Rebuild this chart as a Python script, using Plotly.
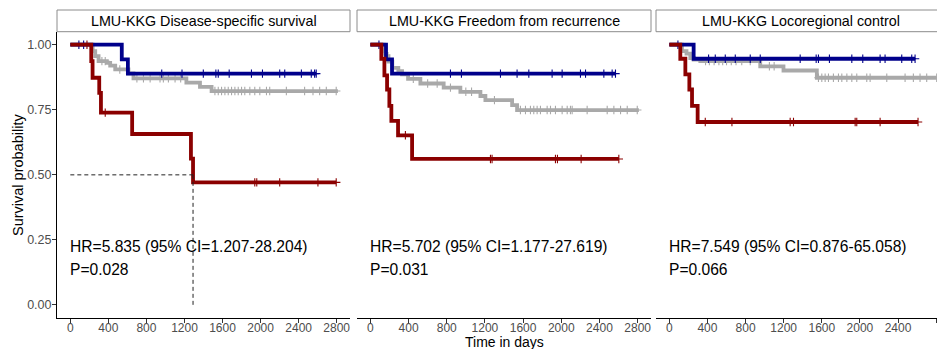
import plotly.graph_objects as go

# ---------------- data ----------------
titles = ["LMU-KKG Disease-specific survival",
          "LMU-KKG Freedom from recurrence",
          "LMU-KKG Locoregional control"]
hr_texts = ["HR=5.835 (95% CI=1.207-28.204)",
            "HR=5.702 (95% CI=1.177-27.619)",
            "HR=7.549 (95% CI=0.876-65.058)"]
p_texts = ["P=0.028", "P=0.031", "P=0.066"]
x_ticks = [0, 400, 800, 1200, 1600, 2000, 2400, 2800]
y_ticks = [0.0, 0.25, 0.5, 0.75, 1.0]
y_tick_labels = ["0.00", "0.25", "0.50", "0.75", "1.00"]
median_dss_red = 1290

# Panel 1: Disease-specific survival
dss_gray_t = [0, 235, 262, 297, 384, 419, 472, 611, 664, 1220, 1363, 1485]
dss_gray_s = [1.0, 0.975, 0.956, 0.937, 0.930, 0.920, 0.905, 0.890, 0.871, 0.854, 0.838, 0.822]
dss_gray_end = 2813
dss_gray_c = [332, 367, 520, 700, 769, 839, 943, 978, 1031, 1101, 1160, 1520, 1555, 1590, 1625,
              1660, 1695, 1730, 1765, 1800, 1834, 1887, 1939, 1992, 2062, 2096, 2271, 2463,
              2551, 2621, 2691, 2795]
dss_blue_t = [0, 541, 605]
dss_blue_s = [1.0, 0.944, 0.889]
dss_blue_end = 2585
dss_blue_c = [90, 140, 961, 1174, 1398, 1530, 1555, 1670, 1904, 2020, 2201, 2254, 2429, 2533, 2568, 2585]
dss_red_t = [0, 220, 234, 304, 322, 650, 1268, 1290]
dss_red_s = [1.0, 0.937, 0.873, 0.815, 0.739, 0.657, 0.562, 0.471]
dss_red_end = 2795
dss_red_c = [175, 367, 1939, 1960, 2201, 2603, 2795]

# Panel 2: Freedom from recurrence
ffr_gray_t = [0, 140, 155, 170, 190, 230, 293, 332, 395, 524, 768, 943, 1153, 1205, 1485, 1537]
ffr_gray_s = [1.0, 0.975, 0.965, 0.956, 0.935, 0.911, 0.898, 0.886, 0.869, 0.851, 0.835, 0.819,
              0.803, 0.787, 0.768, 0.749]
ffr_gray_end = 2813
ffr_gray_c = [450, 600, 700, 839, 1000, 1060, 1300, 1572, 1625, 1677, 1712, 1747, 1782, 1852,
              1887, 1939, 2009, 2062, 2096, 2114, 2271, 2481, 2551, 2621, 2691, 2796]
ffr_blue_t = [0, 164, 227]
ffr_blue_s = [1.0, 0.944, 0.889]
ffr_blue_end = 2568
ffr_blue_c = [90, 839, 954, 1363, 1537, 1660, 1904, 2009, 2201, 2254, 2446, 2533, 2568]
ffr_red_t = [0, 115, 147, 175, 199, 220, 290, 437]
ffr_red_s = [1.0, 0.946, 0.882, 0.828, 0.765, 0.707, 0.652, 0.561]
ffr_red_end = 2603
ffr_red_c = [367, 1258, 1275, 1939, 1960, 2208, 2603]

# Panel 3: Locoregional control
lrc_gray_t = [0, 133, 180, 220, 255, 325, 954, 1198, 1548]
lrc_gray_s = [1.0, 0.975, 0.966, 0.949, 0.943, 0.937, 0.917, 0.901, 0.873]
lrc_gray_end = 2806
lrc_gray_c = [380, 420, 470, 520, 560, 600, 650, 700, 760, 849, 1050, 1100, 1565, 1600, 1635,
              1670, 1722, 1775, 1810, 1863, 1915, 1967, 2072, 2107, 2282, 2474, 2561, 2631,
              2701, 2806]
lrc_blue_t = [0, 255]
lrc_blue_s = [1.0, 0.946]
lrc_blue_end = 2579
lrc_blue_c = [90, 412, 482, 587, 692, 849, 954, 1373, 1541, 1565, 1680, 1915, 2030, 2212, 2264,
              2439, 2544, 2579]
lrc_red_t = [0, 115, 168, 210, 238, 297]
lrc_red_s = [1.0, 0.946, 0.886, 0.828, 0.765, 0.703]
lrc_red_end = 2610
lrc_red_c = [377, 657, 1268, 1303, 1950, 1967, 2212, 2610]

# ---------------- styling ----------------
COL = {"gray": "#A9A9A9", "blue": "#00008B", "red": "#8B0000"}
FONT = "Liberation Sans, Arial, Helvetica, sans-serif"

panels = [
    [("gray", dss_gray_t, dss_gray_s, dss_gray_end, dss_gray_c),
     ("blue", dss_blue_t, dss_blue_s, dss_blue_end, dss_blue_c),
     ("red", dss_red_t, dss_red_s, dss_red_end, dss_red_c)],
    [("gray", ffr_gray_t, ffr_gray_s, ffr_gray_end, ffr_gray_c),
     ("blue", ffr_blue_t, ffr_blue_s, ffr_blue_end, ffr_blue_c),
     ("red", ffr_red_t, ffr_red_s, ffr_red_end, ffr_red_c)],
    [("gray", lrc_gray_t, lrc_gray_s, lrc_gray_end, lrc_gray_c),
     ("blue", lrc_blue_t, lrc_blue_s, lrc_blue_end, lrc_blue_c),
     ("red", lrc_red_t, lrc_red_s, lrc_red_end, lrc_red_c)],
]


def step_value(ts, ss, t):
    v = ss[0]
    for ti, si in zip(ts, ss):
        if ti <= t:
            v = si
    return v


# the page body has an 8px margin: figure occupies page px 8..945 x 8..349
OFF = 8
W, H = 945 - OFF, 349 - OFF
ML, MR, MT, MB = 57 - OFF, 0, 10 - OFF, 349 - 318
PW, PH = W - ML - MR, H - MT - MB


def px_x(px):  # page px -> paper x
    return (px - OFF - ML) / PW


def px_y(py):  # page px -> paper y
    return (H - MB - (py - OFF)) / PH


x_domains = [[px_x(57), px_x(350)], [px_x(357), px_x(651)], [px_x(656), 1.0]]
x_ranges = [[-140, 2940], [-140, 2940], [-140, 2893]]
panel_top = px_y(31.7)
y_domain = [0, panel_top]

fig = go.Figure()
for i, groups in enumerate(panels):
    xa = "x" if i == 0 else f"x{i+1}"
    ya = "y" if i == 0 else f"y{i+1}"
    for name, ts, ss, end, cs in groups:
        xs = list(ts) + [end]
        ys = list(ss) + [ss[-1]]
        fig.add_trace(go.Scatter(x=xs, y=ys, mode="lines", line=dict(color=COL[name], width=3.8, shape="hv"),
                                 xaxis=xa, yaxis=ya, showlegend=False, hoverinfo="skip"))
        fig.add_trace(go.Scatter(x=cs, y=[step_value(ts, ss, c) for c in cs], mode="markers",
                                 marker=dict(symbol="cross-thin", size=6, line=dict(color=COL[name], width=1.1)),
                                 xaxis=xa, yaxis=ya, showlegend=False, hoverinfo="skip"))

layout = dict(width=W, height=H, autosize=False,
              margin=dict(l=ML, r=MR, t=MT, b=MB, pad=0),
              paper_bgcolor="white", plot_bgcolor="white",
              font=dict(family=FONT, color="black"), showlegend=False)

for i in range(3):
    xk = "xaxis" if i == 0 else f"xaxis{i+1}"
    yk = "yaxis" if i == 0 else f"yaxis{i+1}"
    layout[xk] = dict(domain=x_domains[i], range=x_ranges[i], anchor="y" if i == 0 else f"y{i+1}",
                      tickvals=x_ticks, ticktext=[str(v) for v in x_ticks],
                      showline=True, linecolor="black", linewidth=1, mirror=False,
                      ticks="outside", ticklen=4, tickcolor="#333333", tickwidth=1,
                      ticklabelstandoff=-5,
                      tickfont=dict(size=12, color="#4D4D4D", family=FONT),
                      showgrid=False, zeroline=False, fixedrange=True)
    layout[yk] = dict(domain=y_domain, range=[-0.05, 1.05], anchor="x" if i == 0 else f"x{i+1}",
                      tickvals=y_ticks, ticktext=y_tick_labels,
                      showticklabels=(i == 0), showline=(i == 0), linecolor="black", linewidth=1,
                      ticks="outside" if i == 0 else "", ticklen=4, tickcolor="#333333",
                      ticklabelstandoff=-2,
                      tickfont=dict(size=12.5, color="#4D4D4D", family=FONT),
                      showgrid=False, zeroline=False, fixedrange=True)

fig.update_layout(**layout)

shapes = []
annotations = []
for i in range(3):
    x0, x1 = x_domains[i]
    shapes.append(dict(type="rect", xref="paper", yref="paper", x0=x0, x1=x1, y0=panel_top, y1=px_y(10),
                       line=dict(color="#8C8C8C", width=1), fillcolor="white", layer="above"))
    annotations.append(dict(text=titles[i], xref="paper", yref="paper", x=(x0 + x1) / 2,
                            y=(panel_top + px_y(10)) / 2, showarrow=False, xanchor="center", yanchor="middle",
                            font=dict(size=14.3, color="black", family=FONT)))
    xr = "x" if i == 0 else f"x{i+1}"
    yr = "y" if i == 0 else f"y{i+1}"
    annotations.append(dict(text=hr_texts[i], xref=xr, yref=yr, x=0, y=0.225, showarrow=False,
                            xanchor="left", yanchor="middle", xshift=-2,
                            font=dict(size=15.6, color="black", family=FONT)))
    annotations.append(dict(text=p_texts[i], xref=xr, yref=yr, x=0, y=0.135, showarrow=False,
                            xanchor="left", yanchor="middle", xshift=-2,
                            font=dict(size=15.6, color="black", family=FONT)))

# median lines (panel 1)
shapes.append(dict(type="line", xref="x", yref="y", x0=0, x1=median_dss_red, y0=0.5, y1=0.5,
                   line=dict(color="#222222", width=1, dash="4px,3px")))
shapes.append(dict(type="line", xref="x", yref="y", x0=median_dss_red, x1=median_dss_red, y0=0.5, y1=0,
                   line=dict(color="#222222", width=1, dash="4px,3px")))

annotations.append(dict(text="Survival probability", xref="paper", yref="paper", x=px_x(18),
                        y=px_y(175), showarrow=False, textangle=-90, xanchor="center", yanchor="middle",
                        font=dict(size=14.5, color="black", family=FONT)))
annotations.append(dict(text="Time in days", xref="paper", yref="paper", x=px_x(505),
                        y=px_y(342), showarrow=False, xanchor="center", yanchor="middle",
                        font=dict(size=14, color="black", family=FONT)))

fig.update_layout(shapes=shapes, annotations=annotations)
fig.write_html("out.html")
